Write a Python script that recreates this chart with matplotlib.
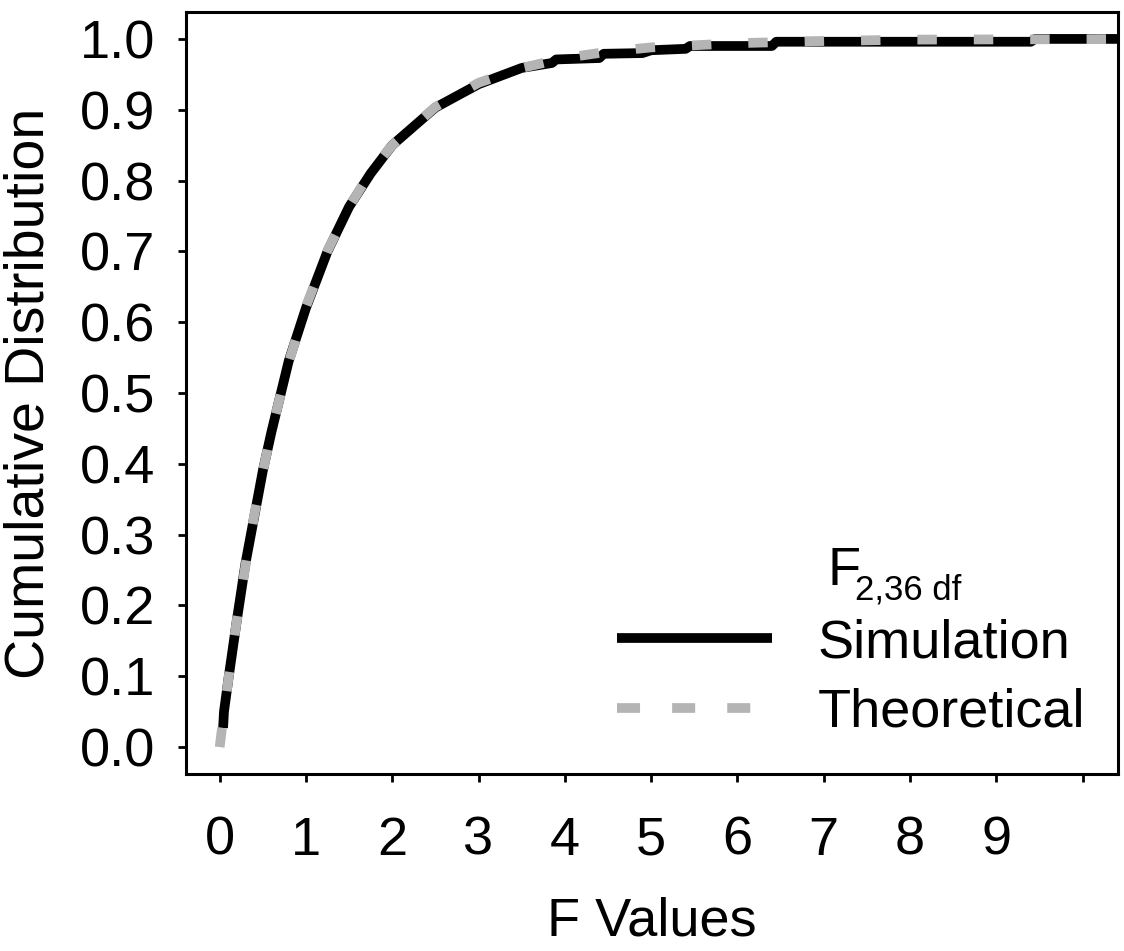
import matplotlib
matplotlib.use("Agg")
import matplotlib.pyplot as plt
from matplotlib.lines import Line2D

# Data
theo_x = [0.0, 0.05, 0.1, 0.2, 0.3, 0.4, 0.5, 0.6, 0.8, 1.0, 1.25, 1.5, 1.75, 2.0,
          2.5, 3.0, 3.5, 4.0, 4.5, 5.0, 6.0, 7.0, 8.0, 9.0, 10.0, 10.4]
theo_y = [0.0, 0.049, 0.095, 0.180, 0.257, 0.327, 0.389, 0.446, 0.543, 0.622, 0.701,
          0.763, 0.812, 0.850, 0.904, 0.938, 0.959, 0.973, 0.982, 0.988, 0.994, 0.997,
          0.999, 0.9993, 0.9996, 0.9998]

sim_x = [0.04, 0.05, 0.1, 0.2, 0.3, 0.4, 0.5, 0.6, 0.8, 1.0, 1.25, 1.5, 1.75, 2.0,
         2.5, 3.0, 3.5, 3.85, 3.9, 4.4, 4.45, 4.9, 5.0, 5.4, 5.45, 6.4, 6.45, 9.4,
         9.45, 10.4]
sim_y = [0.027, 0.05, 0.095, 0.18, 0.26, 0.325, 0.39, 0.445, 0.545, 0.62, 0.70, 0.763,
         0.81, 0.85, 0.903, 0.936, 0.959, 0.966, 0.971, 0.973, 0.979, 0.980, 0.984,
         0.986, 0.990, 0.990, 0.996, 0.996, 1.0, 1.0]

x_ticks = [0, 1, 2, 3, 4, 5, 6, 7, 8, 9, 10]
x_tick_labels = ["0", "1", "2", "3", "4", "5", "6", "7", "8", "9", ""]
y_ticks = [0.0, 0.1, 0.2, 0.3, 0.4, 0.5, 0.6, 0.7, 0.8, 0.9, 1.0]
y_tick_labels = ["0.0", "0.1", "0.2", "0.3", "0.4", "0.5", "0.6", "0.7", "0.8", "0.9", "1.0"]

plt.rcParams["font.family"] = ["Liberation Sans", "DejaVu Sans"]

FS = 39
GRAY = "#b4b4b4"
W, H = 1124, 951

fig = plt.figure(figsize=(W / 100, H / 100), dpi=100)
ax = fig.add_axes([186 / W, 1 - 774 / H, (1118 - 186) / W, (774 - 12) / H])

ax.plot(sim_x, sim_y, color="black", lw=7, solid_capstyle="butt", solid_joinstyle="round",
        zorder=2)
ax.plot(theo_x, theo_y, color=GRAY, lw=7, linestyle=(0, (2.0, 3.8)),
        dash_capstyle="butt", zorder=3)

ax.set_xlim(-0.39, 10.41)
ax.set_ylim(-0.038, 1.038)
ax.set_xticks(x_ticks)
ax.set_xticklabels(x_tick_labels)
ax.set_yticks(y_ticks)
ax.set_yticklabels(y_tick_labels)

for s in ax.spines.values():
    s.set_linewidth(2.2)
ax.tick_params(axis="both", direction="out", length=6, width=2, labelsize=FS)
ax.tick_params(axis="x", pad=24)
ax.tick_params(axis="y", pad=16)

ax.set_xlabel("F Values", fontsize=FS, labelpad=22)
ax.set_ylabel("Cumulative Distribution", fontsize=40, labelpad=18)

handles = [Line2D([], [], color="black", lw=7, solid_capstyle="butt"),
           Line2D([], [], color=GRAY, lw=7, linestyle=(0, (2.37, 3.3)), dash_capstyle="butt")]
leg = fig.legend(handles, ["Simulation", "Theoretical"], loc="upper left",
                 bbox_to_anchor=(617 / W, 1 - 618 / H),
                 fontsize=FS, frameon=False, handlelength=2.86, handletextpad=0.85,
                 labelspacing=0.36, borderaxespad=0, borderpad=0)
fig.text(827 / W, 1 - 585 / H, "F", fontsize=FS, ha="left", va="baseline")
fig.text(855 / W, 1 - 600 / H, "2,36 df", fontsize=25, ha="left", va="baseline")

fig.savefig("out.png", dpi=100)
